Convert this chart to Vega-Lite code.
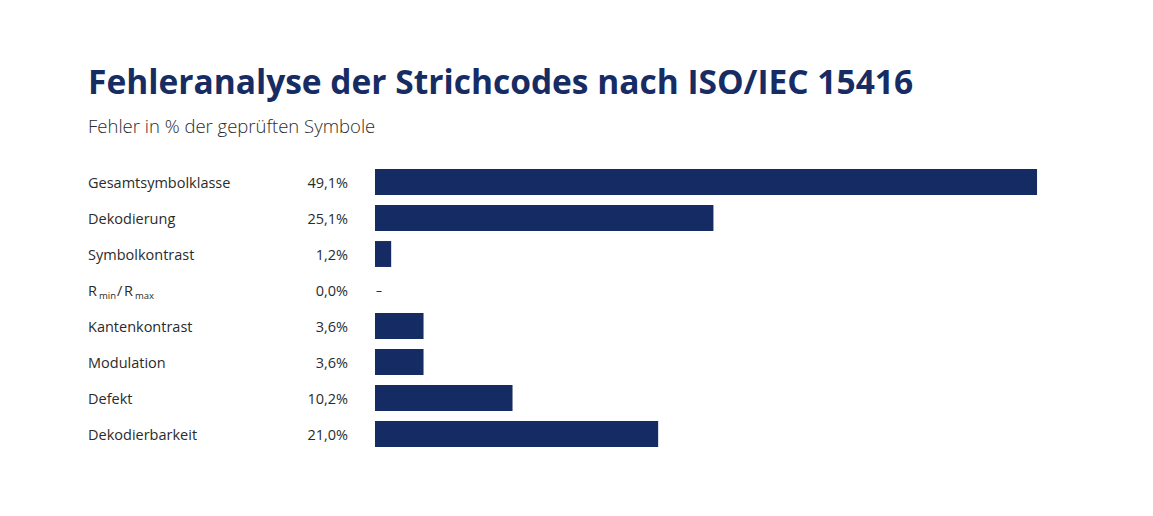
{
  "$schema": "https://vega.github.io/schema/vega-lite/v6.json",
  "autosize": {"type": "none"},
  "width": 778,
  "height": 288,
  "padding": {"left": 375, "top": 164, "right": 0, "bottom": 0},
  "background": "white",
  "config": {
    "view": {"stroke": null},
    "locale": {"number": {"decimal": ",", "thousands": ".", "grouping": [3], "currency": ["", " €"]}},
    "text": {"font": "Open Sans", "fontSize": 14.5, "color": "#2b2b2b"}
  },
  "title": {
    "text": "Fehleranalyse der Strichcodes nach ISO/IEC 15416",
    "subtitle": "Fehler in % der geprüften Symbole",
    "anchor": "start",
    "frame": "group",
    "dx": -287,
    "offset": 27,
    "font": "Open Sans",
    "fontSize": 33.5,
    "fontWeight": "bold",
    "color": "#172c63",
    "subtitleFont": "Open Sans",
    "subtitleFontSize": 18.5,
    "subtitleFontWeight": 300,
    "subtitleColor": "#2b2b2b",
    "subtitlePadding": 16
  },
  "data": {
    "values": [
      {"merkmal": "Gesamtsymbolklasse", "wert": 0.491},
      {"merkmal": "Dekodierung", "wert": 0.251},
      {"merkmal": "Symbolkontrast", "wert": 0.012},
      {"merkmal": "Rmin/Rmax", "wert": 0.0},
      {"merkmal": "Kantenkontrast", "wert": 0.036},
      {"merkmal": "Modulation", "wert": 0.036},
      {"merkmal": "Defekt", "wert": 0.102},
      {"merkmal": "Dekodierbarkeit", "wert": 0.21}
    ]
  },
  "encoding": {
    "y": {"field": "merkmal", "type": "nominal", "axis": null,
          "sort": ["Gesamtsymbolklasse", "Dekodierung", "Symbolkontrast", "Rmin/Rmax", "Kantenkontrast", "Modulation", "Defekt", "Dekodierbarkeit"],
          "scale": {"paddingInner": 0.28, "paddingOuter": 0.14}}
  },
  "layer": [
    {
      "transform": [{"filter": "datum.wert > 0"}],
      "mark": {"type": "bar", "color": "#142b63"},
      "encoding": {
        "x": {"field": "wert", "type": "quantitative", "axis": null,
              "scale": {"domain": [0, 0.577], "nice": false, "zero": true}}
      }
    },
    {
      "transform": [{"filter": "datum.merkmal != 'Rmin/Rmax'"}],
      "mark": {"type": "text", "align": "left", "baseline": "middle", "dx": -287, "dy": 1.5},
      "encoding": {"x": {"datum": 0}, "text": {"field": "merkmal"}}
    },
    {
      "mark": {"type": "text", "align": "right", "baseline": "middle", "dx": -27, "dy": 1.5},
      "encoding": {"x": {"datum": 0}, "text": {"field": "wert", "type": "quantitative", "format": ".1%"}}
    },
    {
      "transform": [{"filter": "datum.wert == 0"}],
      "mark": {"type": "text", "align": "left", "baseline": "middle", "dx": 1, "dy": 1, "text": "–", "fontSize": 12},
      "encoding": {"x": {"datum": 0}}
    },
    {
      "transform": [{"filter": "datum.merkmal == 'Rmin/Rmax'"}],
      "mark": {"type": "text", "align": "left", "baseline": "middle", "dx": -287, "dy": 1.5, "text": "R"},
      "encoding": {"x": {"datum": 0}}
    },
    {
      "transform": [{"filter": "datum.merkmal == 'Rmin/Rmax'"}],
      "mark": {"type": "text", "align": "left", "baseline": "middle", "dx": -276, "dy": 5.5, "fontSize": 9.5, "text": "min"},
      "encoding": {"x": {"datum": 0}}
    },
    {
      "transform": [{"filter": "datum.merkmal == 'Rmin/Rmax'"}],
      "mark": {"type": "text", "align": "left", "baseline": "middle", "dx": -258, "dy": 1.5, "text": "/"},
      "encoding": {"x": {"datum": 0}}
    },
    {
      "transform": [{"filter": "datum.merkmal == 'Rmin/Rmax'"}],
      "mark": {"type": "text", "align": "left", "baseline": "middle", "dx": -251, "dy": 1.5, "text": "R"},
      "encoding": {"x": {"datum": 0}}
    },
    {
      "transform": [{"filter": "datum.merkmal == 'Rmin/Rmax'"}],
      "mark": {"type": "text", "align": "left", "baseline": "middle", "dx": -240, "dy": 5.5, "fontSize": 9.5, "text": "max"},
      "encoding": {"x": {"datum": 0}}
    }
  ]
}
